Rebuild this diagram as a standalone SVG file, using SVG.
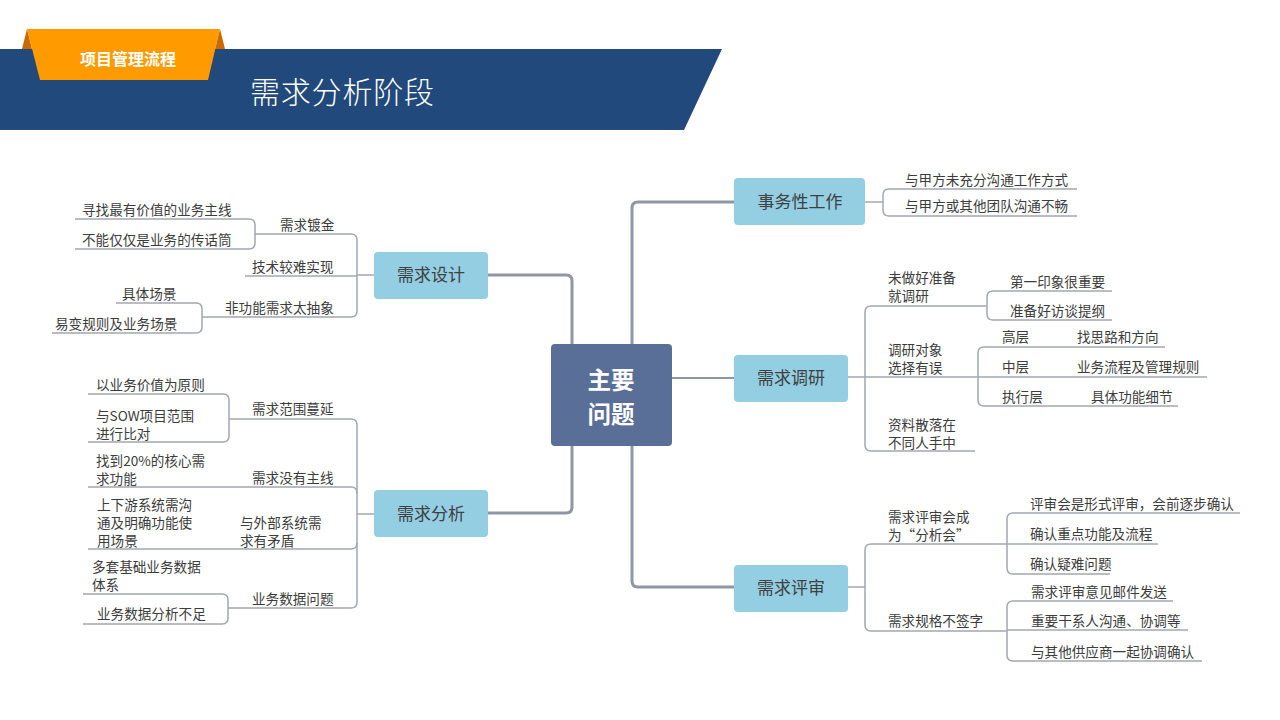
<svg xmlns="http://www.w3.org/2000/svg" width="1280" height="720" viewBox="0 0 1280 720">
<style>
.trunk{fill:none;stroke:#8f96a4;stroke-width:3;stroke-linejoin:round}
.br{fill:none;stroke:#a2a7b0;stroke-width:1.5}
.leaf{font-family:"Noto Sans CJK SC","Noto Sans",sans-serif;font-size:13.6px;fill:#3c3c3c}
.main{fill:#93cee3;}
.mt{font-family:"Noto Sans CJK SC","Noto Sans",sans-serif;font-size:17px;fill:#404040;text-anchor:middle}
</style>
<rect width="1280" height="720" fill="#ffffff"/>
<g id="header">
<polygon points="0,49 722,49 684,130 0,130" fill="#21497b"/>
<polygon points="27,29 22,49 32,49" fill="#c86a00"/>
<polygon points="220,29 225,49 215,49" fill="#c86a00"/>
<polygon points="27,29 220,29 208,80 40,80" fill="#ff9b00"/>
<text x="128" y="65" text-anchor="middle" font-family="Noto Sans CJK SC,sans-serif" font-size="16" font-weight="bold" fill="#ffffff">项目管理流程</text>
<text x="250" y="103" font-family="Noto Sans CJK SC,sans-serif" font-size="30" font-weight="300" fill="#ffffff" letter-spacing="0.8">需求分析阶段</text>
</g>
<g id="connectors">
<path class="trunk" d="M488,275 H566 Q572,275 572,281 V507 Q572,513 566,513 H488"/>
<path class="trunk" d="M734,202 H638 Q632,202 632,208 V581 Q632,587 638,587 H734"/>
<path class="trunk" d="M672,378 H734" style="stroke-width:2"/>
<path class="br" d="M374,275 H357"/>
<path class="br" d="M255,234 H351 Q357,234 357,240 V311 Q357,317 351,317 H202"/>
<path class="br" d="M245,276 H357"/>
<path class="br" d="M75,219 H249 Q255,219 255,225 V243 Q255,249 249,249 H75"/>
<path class="br" d="M116,303 H196 Q202,303 202,309 V327 Q202,333 196,333 H52"/>
<path class="br" d="M374,514 H357"/>
<path class="br" d="M229,419 H351 Q357,419 357,425 V602 Q357,608 351,608 H228"/>
<path class="br" d="M88,487 H351 Q357,487 357,493"/>
<path class="br" d="M88,549 H351 Q357,549 357,543"/>
<path class="br" d="M88,394 H223 Q229,394 229,400 V436 Q229,442 223,442 H88"/>
<path class="br" d="M83,594 H222 Q228,594 228,600 V618 Q228,624 222,624 H83"/>
<path class="br" d="M865,202 H883"/>
<path class="br" d="M1077,189 H889 Q883,189 883,195 V210 Q883,216 889,216 H1077"/>
<path class="br" d="M848,377 H1207"/>
<path class="br" d="M987,306 H871 Q865,306 865,312 V445 Q865,451 871,451 H975"/>
<path class="br" d="M1112,291 H993 Q987,291 987,297 V314 Q987,320 993,320 H1112"/>
<path class="br" d="M1165,347 H984 Q978,347 978,353 V400 Q978,406 984,406 H1178"/>
<path class="br" d="M848,587 H865"/>
<path class="br" d="M1007,544 H871 Q865,544 865,550 V625 Q865,631 871,631 H1007"/>
<path class="br" d="M1240,513 H1013 Q1007,513 1007,519 V568 Q1007,574 1013,574 H1110"/>
<path class="br" d="M1007,544 H1158"/>
<path class="br" d="M1173,601 H1013 Q1007,601 1007,607 V655 Q1007,661 1013,661 H1202"/>
<path class="br" d="M1007,630 H1188"/>
</g>
<g id="center">
<rect x="551" y="344" width="121" height="102" rx="4" fill="#5a6f97"/>
<text x="611" y="389" text-anchor="middle" font-family="Noto Sans CJK SC,sans-serif" font-size="23.5" font-weight="bold" fill="#ffffff"><tspan x="611" y="389">主要</tspan><tspan x="611" y="423">问题</tspan></text>
</g>
<g id="n-shiwu">
<rect class="main" x="734" y="178" width="131" height="47" rx="4"/>
<text class="mt" x="800" y="208">事务性工作</text>
<text class="leaf" x="905" y="185">与甲方未充分沟通工作方式</text>
<text class="leaf" x="905" y="211">与甲方或其他团队沟通不畅</text>
</g>
<g id="n-diaoyan">
<rect class="main" x="734" y="355" width="114" height="47" rx="4"/>
<text class="mt" x="791" y="384">需求调研</text>
<text class="leaf" x="888" y="283"><tspan x="888" y="283">未做好准备</tspan><tspan x="888" y="301">就调研</tspan></text>
<text class="leaf" x="1010" y="287">第一印象很重要</text>
<text class="leaf" x="1010" y="316">准备好访谈提纲</text>
<text class="leaf" x="888" y="355"><tspan x="888" y="355">调研对象</tspan><tspan x="888" y="373">选择有误</tspan></text>
<text class="leaf" x="1002" y="342">高层</text>
<text class="leaf" x="1077" y="342">找思路和方向</text>
<text class="leaf" x="1002" y="372">中层</text>
<text class="leaf" x="1077" y="372">业务流程及管理规则</text>
<text class="leaf" x="1002" y="402">执行层</text>
<text class="leaf" x="1091" y="402">具体功能细节</text>
<text class="leaf" x="888" y="430"><tspan x="888" y="430">资料散落在</tspan><tspan x="888" y="448">不同人手中</tspan></text>
</g>
<g id="n-pingshen">
<rect class="main" x="734" y="565" width="114" height="47" rx="4"/>
<text class="mt" x="791" y="594">需求评审</text>
<text class="leaf" x="888" y="522"><tspan x="888" y="522">需求评审会成</tspan><tspan x="888" y="540">为“分析会”</tspan></text>
<text class="leaf" x="1030" y="509">评审会是形式评审，会前逐步确认</text>
<text class="leaf" x="1030" y="539">确认重点功能及流程</text>
<text class="leaf" x="1030" y="569">确认疑难问题</text>
<text class="leaf" x="888" y="626">需求规格不签字</text>
<text class="leaf" x="1031" y="597">需求评审意见邮件发送</text>
<text class="leaf" x="1031" y="626">重要干系人沟通、协调等</text>
<text class="leaf" x="1031" y="657">与其他供应商一起协调确认</text>
</g>
<g id="n-sheji">
<rect class="main" x="374" y="252" width="114" height="47" rx="4"/>
<text class="mt" x="431" y="281">需求设计</text>
<text class="leaf" x="280" y="230">需求镀金</text>
<text class="leaf" x="252" y="272">技术较难实现</text>
<text class="leaf" x="225" y="313">非功能需求太抽象</text>
<text class="leaf" x="82" y="215">寻找最有价值的业务主线</text>
<text class="leaf" x="82" y="245">不能仅仅是业务的传话筒</text>
<text class="leaf" x="122" y="299">具体场景</text>
<text class="leaf" x="55" y="329">易变规则及业务场景</text>
</g>
<g id="n-fenxi">
<rect class="main" x="374" y="490" width="114" height="47" rx="4"/>
<text class="mt" x="431" y="520">需求分析</text>
<text class="leaf" x="252" y="414">需求范围蔓延</text>
<text class="leaf" x="96" y="390">以业务价值为原则</text>
<text class="leaf" x="96" y="421"><tspan x="96" y="421">与SOW项目范围</tspan><tspan x="96" y="439">进行比对</tspan></text>
<text class="leaf" x="96" y="466"><tspan x="96" y="466">找到20%的核心需</tspan><tspan x="96" y="484">求功能</tspan></text>
<text class="leaf" x="252" y="483">需求没有主线</text>
<text class="leaf" x="97" y="510"><tspan x="97" y="510">上下游系统需沟</tspan><tspan x="97" y="528">通及明确功能使</tspan><tspan x="97" y="546">用场景</tspan></text>
<text class="leaf" x="240" y="528"><tspan x="240" y="528">与外部系统需</tspan><tspan x="240" y="546">求有矛盾</tspan></text>
<text class="leaf" x="92" y="572"><tspan x="92" y="572">多套基础业务数据</tspan><tspan x="92" y="590">体系</tspan></text>
<text class="leaf" x="252" y="604">业务数据问题</text>
<text class="leaf" x="97" y="619">业务数据分析不足</text>
</g>
</svg>
